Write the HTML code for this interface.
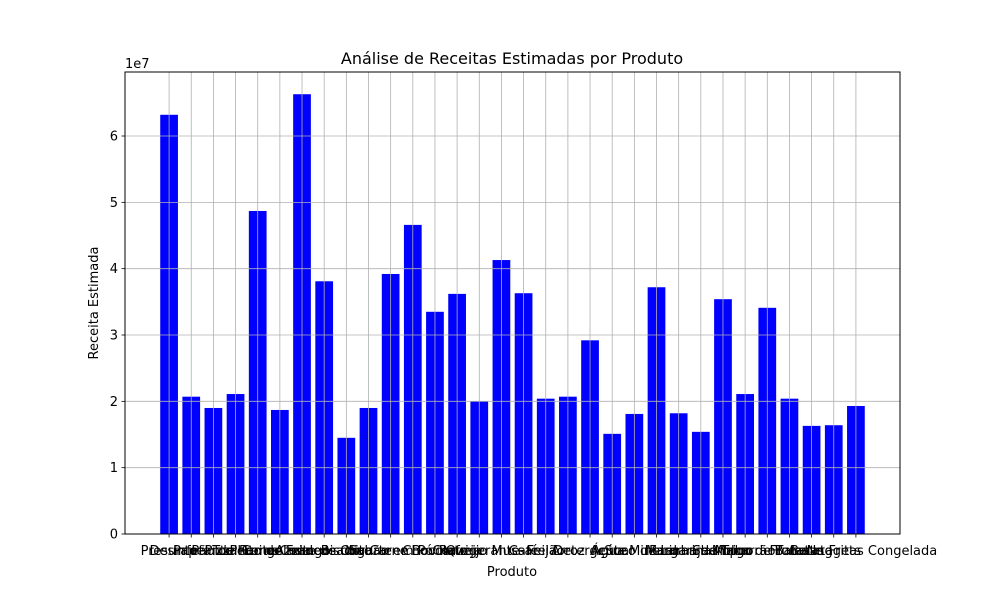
<!DOCTYPE html>
<html><head><meta charset="utf-8"><style>
body{margin:0;background:#fff;}
svg text{font-family:"DejaVu Sans","Liberation Sans",sans-serif;fill:#000;}
</style></head><body>
<svg id="chart" width="1000" height="600" xmlns="http://www.w3.org/2000/svg">
<rect width="1000" height="600" fill="#fff"/>
<g id="bars"></g>
<g id="grid"></g>
<rect x="125" y="72" width="775" height="462" fill="none" stroke="#000" stroke-width="1"/>
<g id="xticks"></g>
<g id="yticks"></g>
<text x="125" y="68" font-size="13">1e7</text>
<text x="512" y="64" font-size="16" text-anchor="middle">Análise de Receitas Estimadas por Produto</text>
<text x="512" y="576" font-size="13" text-anchor="middle">Produto</text>
<text x="98" y="303" font-size="13" text-anchor="middle" transform="rotate(-90 98 303)">Receita Estimada</text>
</svg>
<script>
const categories=["Presunto","Desinfetante","Papel Toalha","Pão de Forma","Pizza Congelada","Peito de Frango","Leite Condensado","Azeite de Oliva","Biscoito","Iogurte","Sabão em Pó","Carne Bovina","Chocolate","Cerveja","Refrigerante","Queijo Mussarela","Café","Feijão","Arroz","Detergente","Açúcar","Água Mineral","Suco de Laranja","Margarina","Farinha de Trigo","Shampoo","Macarrão","Molho de Tomate","Frutas","Batata","Nuggets","Batatas Fritas Congelada"];
const values=[6.32,2.07,1.90,2.11,4.87,1.87,6.63,3.81,1.45,1.90,3.92,4.66,3.35,3.62,2.00,4.13,3.63,2.04,2.07,2.92,1.51,1.81,3.72,1.82,1.54,3.54,2.11,3.41,2.04,1.63,1.64,1.93];
const yTicks=[0,1,2,3,4,5,6];
const NS="http://www.w3.org/2000/svg";
const L=125,R=900,T=72,B=534;
const xmin=-1.99,xmax=categories.length-1+1.99;
const ymax=6.965;
function xs(i){return L+(i-xmin)/(xmax-xmin)*(R-L);}
function ys(v){return B-v/ymax*(B-T);}
const bw=0.8*(R-L)/(xmax-xmin);
function mk(tag,attrs,parent){const e=document.createElementNS(NS,tag);for(const k in attrs)e.setAttribute(k,attrs[k]);parent.appendChild(e);return e;}
const gb=document.getElementById('bars'),gg=document.getElementById('grid'),gx=document.getElementById('xticks'),gy=document.getElementById('yticks');
values.forEach((v,i)=>{
 const r=mk('rect',{x:xs(i)-bw/2,y:ys(v),width:bw,height:B-ys(v),fill:'#0000ff'},gb);
 
 
});
categories.forEach((c,i)=>{
 const x=xs(i);
 mk('line',{x1:x,x2:x,y1:T,y2:B,stroke:'#b0b0b0','stroke-width':0.8},gg);
 mk('line',{x1:x,x2:x,y1:B,y2:B+3.5,stroke:'#000','stroke-width':0.8},gx);
 const t=mk('text',{x:x,y:B+21,'font-size':13,'text-anchor':'middle'},gx);
 t.textContent=c;
 
 
});
yTicks.forEach(v=>{
 const y=ys(v);
 mk('line',{x1:L,x2:R,y1:y,y2:y,stroke:'#b0b0b0','stroke-width':0.8},gg);
 mk('line',{x1:L-3.5,x2:L,y1:y,y2:y,stroke:'#000','stroke-width':0.8},gy);
 const t=mk('text',{x:L-7,y:y+4.5,'font-size':13,'text-anchor':'end'},gy);
 t.textContent=v;
 
 
});
</script>
</body></html>
